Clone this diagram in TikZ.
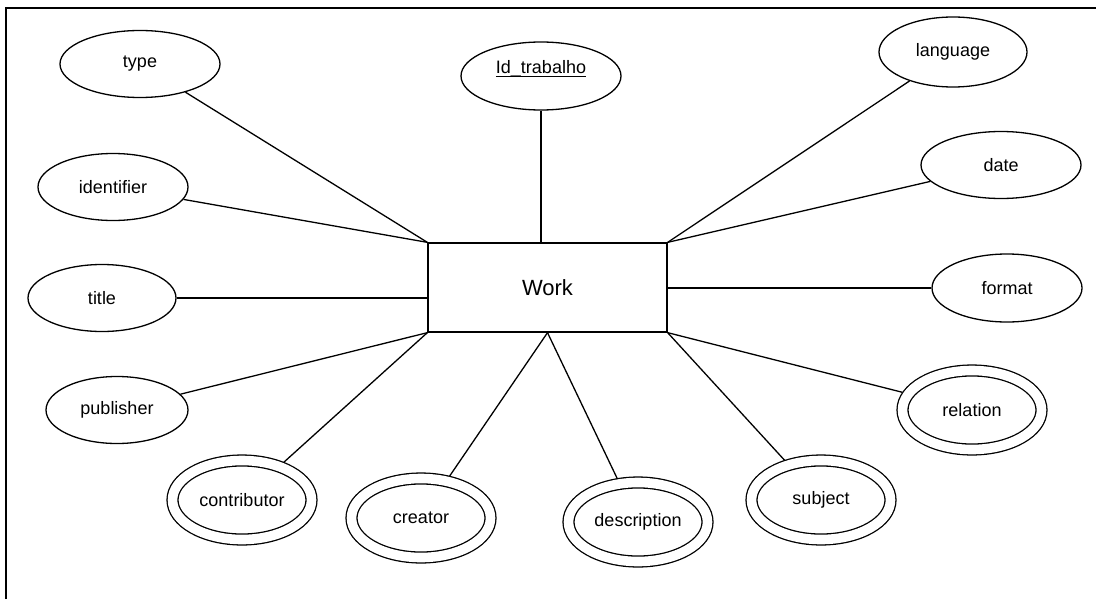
\documentclass[tikz,border=0pt]{standalone}
\usepackage{fontspec}
\setmainfont{Liberation Sans}
\usetikzlibrary{shapes.geometric}

\tikzset{
  attr/.style={draw, ellipse, inner sep=0pt, minimum width=75pt, minimum height=33.5pt, font=\fontsize{9}{11}\selectfont},
  multiattr/.style={attr, double, double distance=4.8pt, minimum width=69.5pt, minimum height=39.5pt, outer sep=3pt},
  entity/.style={draw, rectangle, minimum width=119.5pt, minimum height=44.5pt, font=\fontsize{11}{13}\selectfont}
}

\begin{document}
\begin{tikzpicture}[x=0.5pt, y=-0.5pt, line width=0.65pt]
    \useasboundingbox (0,0) rectangle (1096,599);
    \draw[line width=1pt] (6,599) -- (6,8) -- (1096,8);

    \node (work) [entity] at (547.5,287.5) {Work};

    \node (type) [attr, minimum width=80pt] at (140,64) {type};
    \node (identifier) [attr] at (113,187) {identifier};
    \node (idtrab) [attr, minimum width=80pt, minimum height=34pt] at (541,76) {\underline{\smash{Id\_trabalho}}};
    \node (language) [attr, minimum width=74pt, minimum height=35pt] at (953,52) {language};
    \node (date) [attr, minimum width=80pt] at (1001,165) {date};
    \node (format) [attr, minimum height=34pt] at (1007,288) {format};
    \node (title) [attr, minimum width=74pt] at (102,298) {title};
    \node (publisher) [attr, minimum width=71pt] at (117,410) {publisher};
    \node (contributor) [multiattr] at (242,500) {contributor};
    \node (creator) [multiattr] at (421,518) {creator};
    \node (description) [multiattr] at (638,522) {description};
    \node (subject) [multiattr] at (821,500) {subject};
    \node (relation) [multiattr] at (972,410) {relation};

    \draw (type) -- (work.north west);
    \draw (identifier) -- (work.north west);
    \draw (title) -- (title -| work.west);
    \draw (publisher) -- (work.south west);
    \draw (contributor) -- (work.south west);
    \draw (creator) -- (work.south);
    \draw (description) -- (work.south);
    \draw (subject) -- (work.south east);
    \draw (relation) -- (work.south east);
    \draw (format) -- (format -| work.east);
    \draw (date) -- (work.north east);
    \draw (language) -- (work.north east);
    \draw (idtrab) -- (idtrab |- work.north);
\end{tikzpicture}
\end{document}
